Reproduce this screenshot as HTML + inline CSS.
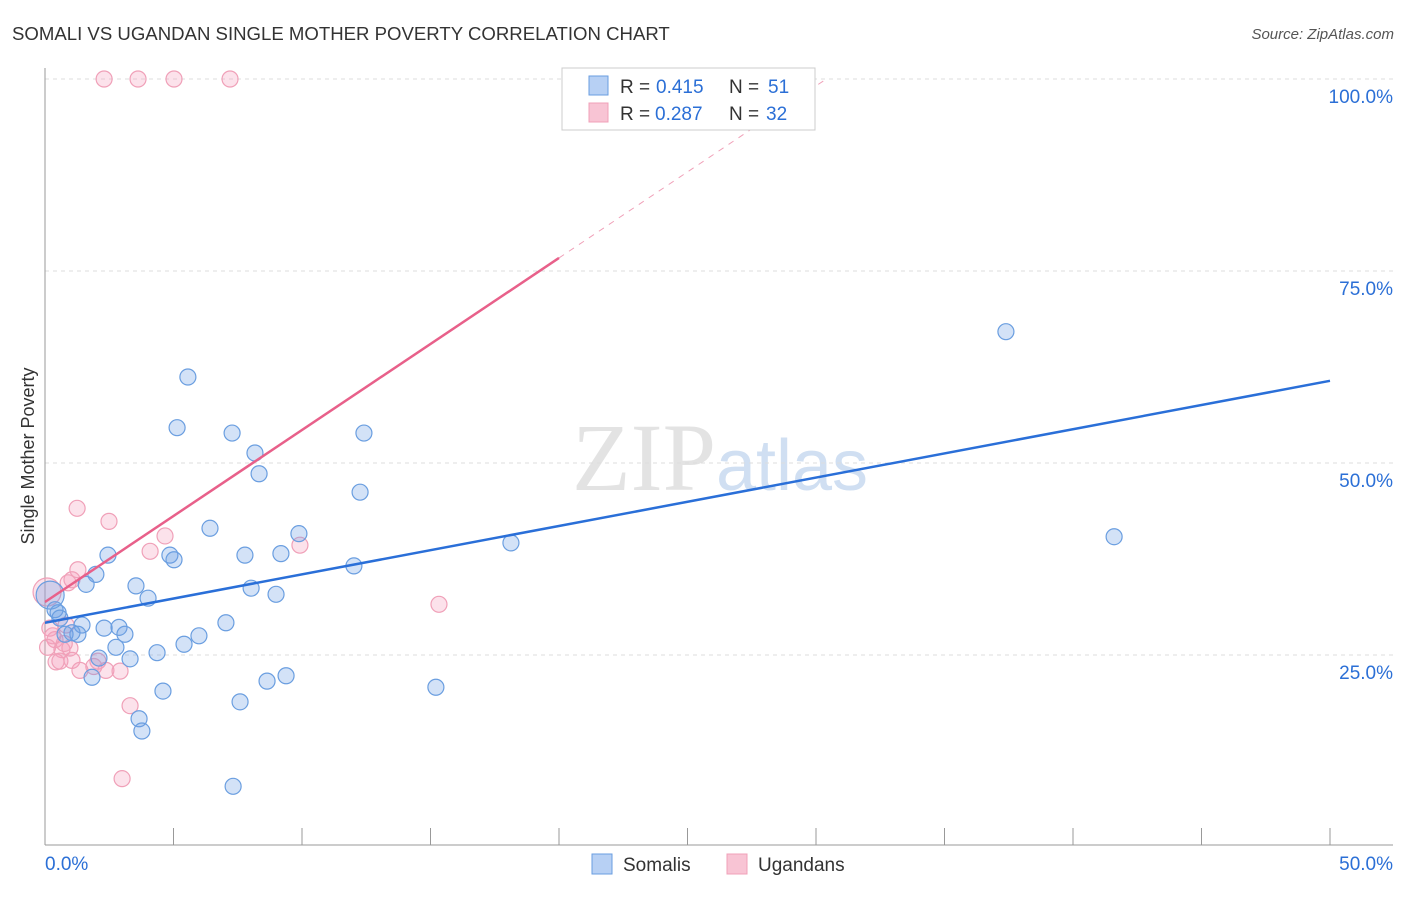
<!DOCTYPE html>
<html><head><meta charset="utf-8"><style>
body{margin:0;background:#fff;font-family:"Liberation Sans",sans-serif;}
</style></head><body>
<svg id="chart" width="1406" height="892" xmlns="http://www.w3.org/2000/svg" font-family="Liberation Sans, sans-serif">
<text x="12" y="40" font-size="18.6" fill="#333">SOMALI VS UGANDAN SINGLE MOTHER POVERTY CORRELATION CHART</text>
<text x="1394" y="39" font-size="15" fill="#555" text-anchor="end" font-style="italic">Source: ZipAtlas.com</text>
<text x="720" y="490" font-size="96" fill="#ddd" text-anchor="middle" font-family="Liberation Serif, serif" opacity="0.8">ZIP<tspan fill="#c5d8ef" font-family="Liberation Sans, sans-serif" font-size="72">atlas</tspan></text>
<text transform="translate(34,456) rotate(-90)" font-size="18" fill="#333" text-anchor="middle">Single Mother Poverty</text>
<g id="grid"></g><g id="axes"></g><g id="marks"></g>
<g>
<rect x="562" y="68" width="253" height="62" fill="#fff" stroke="#ccc"/>
<rect x="589" y="76" width="19" height="19" fill="#b7d0f4" stroke="#6a9ee0"/>
<text x="620" y="93" font-size="19" fill="#333">R =</text>
<text x="656" y="93" font-size="19" fill="#2b6fd6">0.415</text>
<text x="729" y="93" font-size="19" fill="#333">N =</text>
<text x="768" y="93" font-size="19" fill="#2b6fd6">51</text>
<rect x="589" y="103" width="19" height="19" fill="#f8c4d4" stroke="#f0a0b8"/>
<text x="620" y="120" font-size="19" fill="#333">R =</text>
<text x="655" y="120" font-size="19" fill="#2b6fd6">0.287</text>
<text x="729" y="120" font-size="19" fill="#333">N =</text>
<text x="766" y="120" font-size="19" fill="#2b6fd6">32</text>
</g>
<g>
<rect x="592" y="854" width="20" height="20" fill="#b7d0f4" stroke="#6a9ee0"/>
<text x="623" y="871" font-size="19" fill="#333">Somalis</text>
<rect x="727" y="854" width="20" height="20" fill="#f8c4d4" stroke="#f0a0b8"/>
<text x="758" y="871" font-size="19" fill="#333">Ugandans</text>
</g>
</svg>
<script>
const yTicks=[25,50,75,100];
const yTickLabels=["25.0%","50.0%","75.0%","100.0%"];
const somaliX=[5.56,5.14,7.28,12.41,8.17,8.33,12.26,37.39,41.6,18.13,9.88,6.42,2.45,4.86,5.02,7.78,9.18,12.02,1.98,1.6,3.54,8.02,8.99,4.01,0.39,0.51,1.44,2.88,2.3,7.04,0.78,1.28,3.11,5.99,2.76,5.41,4.36,2.1,3.31,9.38,8.64,1.83,4.59,15.21,7.59,3.66,3.77,7.32,0.58,1.05,0.2];
const somaliY=[61.2,54.6,53.9,53.9,51.3,48.6,46.2,67.1,40.4,39.6,40.8,41.5,38.0,38.0,37.4,38.0,38.2,36.6,35.5,34.2,34.0,33.7,32.9,32.4,30.9,30.5,28.9,28.6,28.5,29.2,27.7,27.7,27.7,27.5,26.0,26.4,25.3,24.6,24.5,22.3,21.6,22.1,20.3,20.8,18.9,16.7,15.1,7.9,29.8,27.9,32.8];
const ugandaX=[2.3,3.62,5.02,7.2,1.25,2.49,4.67,4.09,9.92,15.33,1.28,1.05,0.9,0.08,0.19,0.82,0.39,0.66,0.97,0.43,0.58,1.05,1.36,2.06,2.37,2.92,3.31,3.0,0.75,1.9,0.3,0.1];
const ugandaY=[100,100,100,100,44.1,42.4,40.5,38.5,39.3,31.6,36.1,34.8,34.4,33.2,28.5,28.9,27.0,25.7,25.9,24.1,24.2,24.3,23.0,24.2,23.0,22.9,18.4,8.9,26.5,23.5,27.5,26.0];
const somaliTrend=[29.2,60.7];
const ugandaTrend=[31.9,2.24];
const NS="http://www.w3.org/2000/svg";
const xs=v=>45+v/50*1285, ys=v=>847-v/100*768;
function mk(tag,attrs,parent){const e=document.createElementNS(NS,tag);for(const k in attrs)e.setAttribute(k,attrs[k]);document.getElementById(parent).appendChild(e);return e;}
yTicks.forEach((t,i)=>{
 const g=mk('line',{x1:45,x2:1393,y1:ys(t),y2:ys(t),stroke:'#ddd','stroke-dasharray':'4,4'},'grid');
 
 
 const l=mk('text',{x:1393,y:ys(t)+24,'font-size':19,fill:'#2b6fd6','text-anchor':'end'},'axes');
 l.textContent=yTickLabels[i];
 
 
});
const ax=mk('line',{x1:45,x2:45,y1:68,y2:845,stroke:'#999'},'axes');


const bx=mk('line',{x1:45,x2:1393,y1:845,y2:845,stroke:'#999'},'axes');


for(let i=1;i<=10;i++){const t=mk('line',{x1:xs(i*5),x2:xs(i*5),y1:828,y2:845,stroke:'#999'},'axes');
 
 }
[["0.0%",45,"start"],["50.0%",1393,"end"]].forEach(a=>{const t=mk('text',{x:a[1],y:870,'font-size':19,fill:'#2b6fd6','text-anchor':a[2]},'axes');t.textContent=a[0];
 
 });
ugandaX.forEach((x,i)=>{const c=mk('circle',{cx:xs(x),cy:ys(ugandaY[i]),r:(i==13?14:8),fill:'rgba(244,160,188,0.3)',stroke:'#f0a0b8','stroke-width':1.2},'marks');
 
 });
somaliX.forEach((x,i)=>{const c=mk('circle',{cx:xs(x),cy:ys(somaliY[i]),r:(i==50?14:8),fill:'rgba(110,160,230,0.3)',stroke:'#6a9ee0','stroke-width':1.2},'marks');
 
 });
const sl=mk('line',{x1:xs(0),y1:ys(somaliTrend[0]),x2:xs(50),y2:ys(somaliTrend[1]),stroke:'#2a6fd8','stroke-width':2.5},'marks');


const ul=mk('line',{x1:xs(0),y1:ys(ugandaTrend[0]),x2:xs(20),y2:ys(ugandaTrend[0]+20*ugandaTrend[1]),stroke:'#e8608a','stroke-width':2.5},'marks');


const xe=(100-ugandaTrend[0])/ugandaTrend[1];
const ud=mk('line',{x1:xs(20),y1:ys(ugandaTrend[0]+20*ugandaTrend[1]),x2:xs(xe),y2:ys(100),stroke:'#f0a0b8','stroke-width':1,'stroke-dasharray':'6,6'},'marks');


</script>
</body></html>
